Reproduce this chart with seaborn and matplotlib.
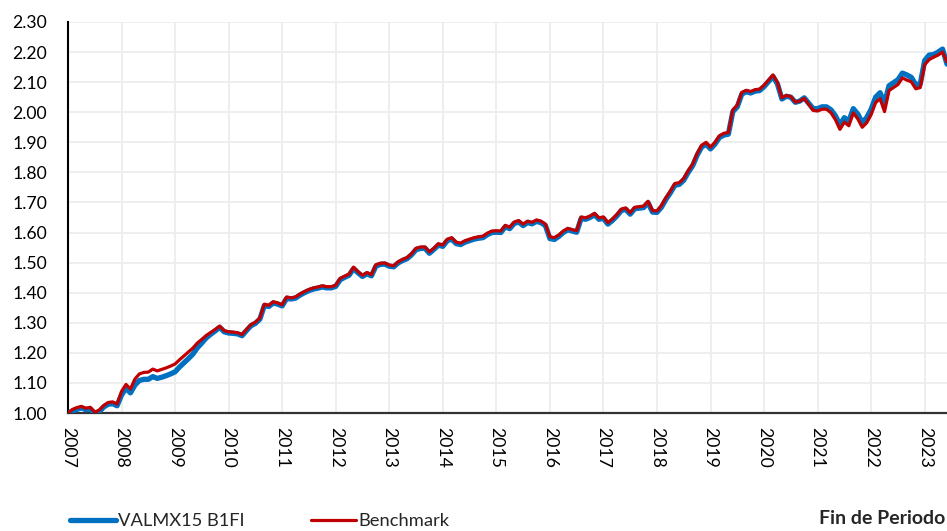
import numpy as np
import pandas as pd
import matplotlib
matplotlib.use("Agg")
import matplotlib.pyplot as plt
import seaborn as sns

# Monthly index values, Jan 2007 onward
benchmark = [
    1.000, 1.012, 1.018, 1.022, 1.016, 1.019, 1.003, 1.010, 1.025, 1.035, 1.037, 1.030,
    1.072, 1.095, 1.080, 1.113, 1.130, 1.135, 1.136, 1.146, 1.140, 1.145, 1.150, 1.156,
    1.163, 1.177, 1.190, 1.203, 1.216, 1.233, 1.245, 1.258, 1.268, 1.278, 1.289, 1.274,
    1.270, 1.269, 1.267, 1.261, 1.278, 1.294, 1.302, 1.316, 1.362, 1.358, 1.370, 1.366,
    1.360, 1.386, 1.383, 1.386, 1.396, 1.404, 1.411, 1.416, 1.419, 1.423, 1.420, 1.420,
    1.425, 1.448, 1.455, 1.462, 1.485, 1.470, 1.458, 1.467, 1.460, 1.493, 1.498, 1.499,
    1.492, 1.490, 1.503, 1.511, 1.517, 1.530, 1.548, 1.552, 1.552, 1.536, 1.548, 1.563,
    1.559, 1.578, 1.583, 1.568, 1.565, 1.573, 1.578, 1.583, 1.586, 1.588, 1.598, 1.605,
    1.606, 1.605, 1.624, 1.618, 1.635, 1.640, 1.628, 1.638, 1.634, 1.642, 1.638, 1.628,
    1.586, 1.583, 1.592, 1.605, 1.614, 1.610, 1.606, 1.652, 1.649, 1.655, 1.664, 1.649,
    1.652, 1.633, 1.645, 1.660, 1.678, 1.682, 1.666, 1.684, 1.686, 1.688, 1.704, 1.673,
    1.672, 1.690, 1.716, 1.738, 1.763, 1.766, 1.780, 1.806, 1.828, 1.863, 1.890, 1.900,
    1.884, 1.900, 1.922, 1.930, 1.933, 2.008, 2.024, 2.066, 2.073, 2.069, 2.075, 2.077,
    2.090, 2.107, 2.124, 2.099, 2.048, 2.056, 2.052, 2.034, 2.037, 2.046, 2.026, 2.006,
    2.004, 2.010, 2.010, 1.998, 1.975, 1.943, 1.967, 1.955, 1.998, 1.978, 1.950, 1.965,
    1.992, 2.032, 2.045, 2.002, 2.072, 2.082, 2.092, 2.114, 2.107, 2.101, 2.078, 2.082,
    2.158, 2.175, 2.183, 2.190, 2.200, 2.168,
]

valmx15 = [
    1.000, 1.006, 1.012, 1.017, 1.011, 1.013, 0.998, 1.004, 1.020, 1.029, 1.031, 1.024,
    1.060, 1.082, 1.067, 1.093, 1.108, 1.112, 1.112, 1.121, 1.115, 1.119, 1.124, 1.130,
    1.137, 1.153, 1.167, 1.181, 1.196, 1.217, 1.233, 1.250, 1.262, 1.273, 1.285, 1.270,
    1.266, 1.265, 1.263, 1.257, 1.274, 1.290, 1.298, 1.312, 1.357, 1.354, 1.366, 1.362,
    1.356, 1.381, 1.379, 1.382, 1.392, 1.400, 1.407, 1.412, 1.415, 1.419, 1.416, 1.416,
    1.421, 1.443, 1.451, 1.458, 1.480, 1.466, 1.454, 1.463, 1.456, 1.488, 1.494, 1.495,
    1.488, 1.486, 1.499, 1.507, 1.513, 1.526, 1.543, 1.547, 1.548, 1.531, 1.544, 1.558,
    1.554, 1.573, 1.578, 1.563, 1.560, 1.568, 1.573, 1.578, 1.581, 1.583, 1.593, 1.600,
    1.601, 1.600, 1.619, 1.613, 1.630, 1.635, 1.623, 1.633, 1.629, 1.637, 1.633, 1.623,
    1.580, 1.577, 1.587, 1.600, 1.609, 1.605, 1.601, 1.647, 1.644, 1.650, 1.659, 1.644,
    1.647, 1.628, 1.640, 1.655, 1.673, 1.677, 1.661, 1.679, 1.681, 1.683, 1.699, 1.668,
    1.667, 1.684, 1.710, 1.732, 1.757, 1.760, 1.774, 1.800, 1.822, 1.857, 1.884, 1.894,
    1.878, 1.894, 1.916, 1.924, 1.927, 2.002, 2.018, 2.060, 2.068, 2.064, 2.070, 2.072,
    2.085, 2.102, 2.119, 2.094, 2.044, 2.053, 2.050, 2.033, 2.037, 2.048, 2.030, 2.012,
    2.012, 2.018, 2.018, 2.008, 1.988, 1.958, 1.982, 1.970, 2.012, 1.994, 1.966, 1.982,
    2.010, 2.050, 2.065, 2.030, 2.088, 2.098, 2.108, 2.130, 2.124, 2.116, 2.092, 2.094,
    2.172, 2.190, 2.192, 2.200, 2.210, 2.160,
]

years = list(range(2007, 2024))
y_ticks = [1.00, 1.10, 1.20, 1.30, 1.40, 1.50, 1.60, 1.70, 1.80, 1.90, 2.00, 2.10, 2.20, 2.30]

period = 2007 + np.arange(len(benchmark)) / 12.0
df = pd.DataFrame({"t": period, "VALMX15 B1FI": valmx15, "Benchmark": benchmark})

sns.set_theme(style="white")
plt.rcParams["font.family"] = ["Lato", "DejaVu Sans"]

fig = plt.figure(figsize=(9.47, 5.31), dpi=100)
ax = fig.add_axes([68 / 947, 1 - 413 / 531, 1 - 68 / 947, (413 - 22) / 531])

sns.lineplot(data=df, x="t", y="VALMX15 B1FI", ax=ax, color="#0070C0",
             linewidth=3.8, label="VALMX15 B1FI", zorder=3)
sns.lineplot(data=df, x="t", y="Benchmark", ax=ax, color="#C00000",
             linewidth=2.3, label="Benchmark", zorder=4)

ax.set_xlim(2007, period[-1])
ax.set_ylim(1.0, 2.3)
ax.set_xticks(years)
ax.set_xticklabels([str(y) for y in years], rotation=-90, fontsize=12.7)
ax.set_yticks(y_ticks)
ax.set_yticklabels([f"{v:.2f}" for v in y_ticks], fontsize=12.7)
ax.tick_params(axis="both", length=0, colors="#000000")
ax.tick_params(axis="y", pad=15)
ax.tick_params(axis="x", pad=10)
ax.set_xlabel("")
ax.set_ylabel("")
ax.grid(True, color="#EDEDED", linewidth=1.3)
ax.set_axisbelow(True)
for s in ["top", "right"]:
    ax.spines[s].set_visible(False)
ax.spines["left"].set_color("#000000")
ax.spines["left"].set_linewidth(1.5)
ax.spines["bottom"].set_color("#333333")
ax.spines["bottom"].set_linewidth(1.6)

ax.legend_.remove()
handles, labels = ax.get_legend_handles_labels()
fig.legend(handles, labels, loc="center left", bbox_to_anchor=(70 / 947, 1 - 521 / 531),
           ncol=2, frameon=False, fontsize=13.2, handlelength=2.5, handletextpad=0.12,
           columnspacing=3.6, borderaxespad=0, borderpad=0)

fig.text(945 / 947, 1 - 519 / 531, "Fin de Periodo", ha="right", va="center",
         fontsize=14.0, fontweight="bold")

fig.savefig("out.png", dpi=100)
